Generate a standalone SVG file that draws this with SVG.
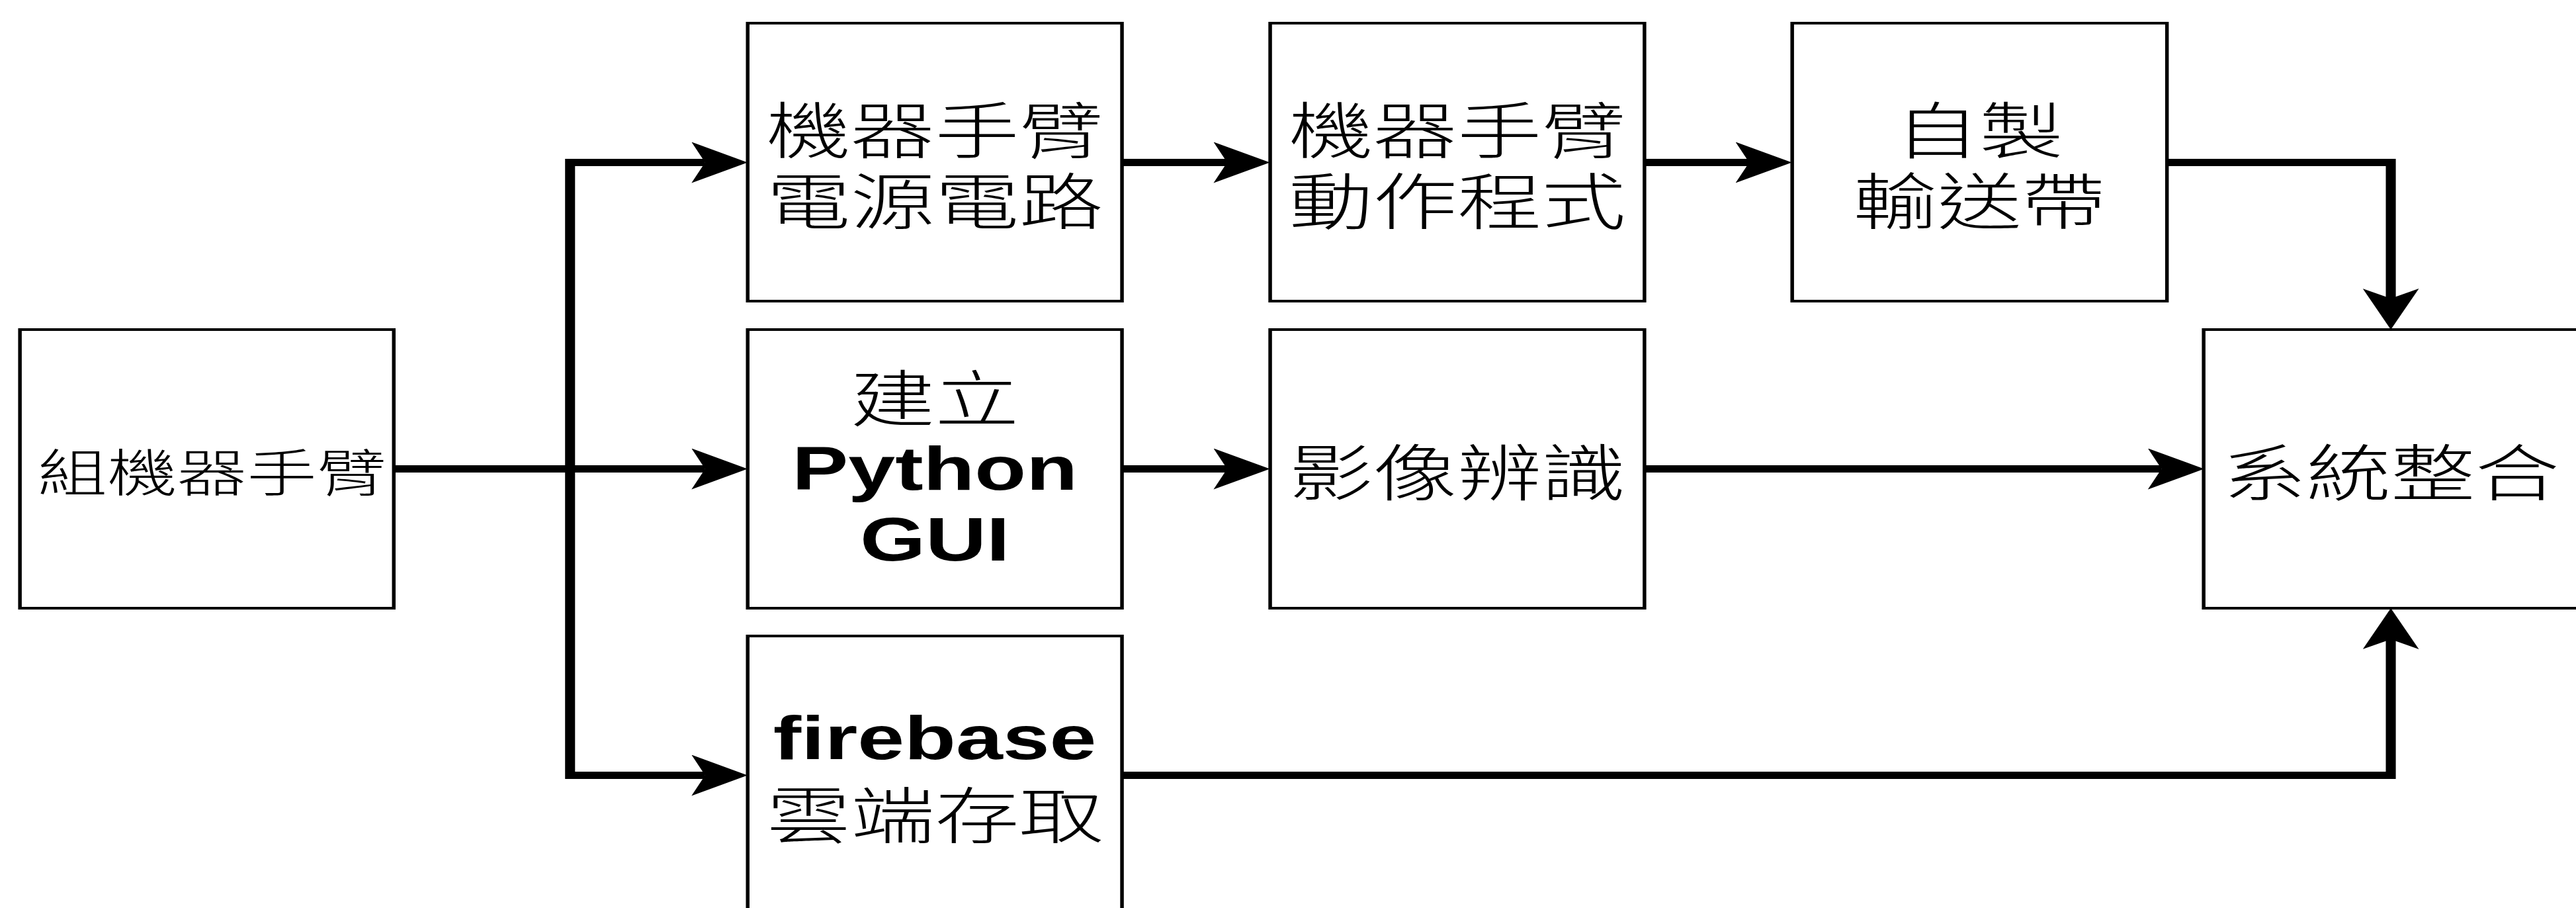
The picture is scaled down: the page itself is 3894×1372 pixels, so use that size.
<svg xmlns="http://www.w3.org/2000/svg" width="3894" height="1372" viewBox="0 0 3894 1372">
  <defs>
    <style>
      .box { fill: #ffffff; stroke: #000000; stroke-width: 4; }
      .wire { fill: none; stroke: #000000; stroke-width: 11; stroke-linejoin: miter; stroke-linecap: butt; }
      .cjk { font-family: "Noto Sans CJK TC", "Noto Sans CJK SC", sans-serif; font-size: 93px; font-weight: 300; fill: #000000; text-anchor: middle; }
      .lat { font-family: "Liberation Sans", Arial, sans-serif; font-size: 93px; font-weight: bold; fill: #000000; text-anchor: middle; }
      .small { font-size: 77px; }
    </style>
    <marker id="arrow" markerUnits="userSpaceOnUse" markerWidth="62" markerHeight="62" refX="15" refY="31" orient="auto" viewBox="0 0 62 62">
      <path d="M0,0 L62,31 L0,62 L15,31 Z" fill="#000000"/>
    </marker>
  </defs>
  <rect width="3894" height="1372" fill="#ffffff"/>
  <!-- whole drawing is laid out on a horizontally stretched grid -->
  <g transform="scale(1.37 1)">
    <g id="connectors">
      <path class="wire" d="M434,708.5 H778" marker-end="url(#arrow)"/>
      <path class="wire" d="M434,708.5 H629 V245.5 H778" marker-end="url(#arrow)"/>
      <path class="wire" d="M434,708.5 H629 V1171.5 H778" marker-end="url(#arrow)"/>
      <path class="wire" d="M1238,245.5 H1354" marker-end="url(#arrow)"/>
      <path class="wire" d="M1814.5,245.5 H1930" marker-end="url(#arrow)"/>
      <path class="wire" d="M2391,245.5 H2638 V451" marker-end="url(#arrow)"/>
      <path class="wire" d="M1238,708.5 H1354" marker-end="url(#arrow)"/>
      <path class="wire" d="M1814.5,708.5 H2385" marker-end="url(#arrow)"/>
      <path class="wire" d="M1238,1171.5 H2638 V966" marker-end="url(#arrow)"/>
    </g>

    <g id="assemble-arm">
      <rect class="box" x="22" y="498" width="412.5" height="421"/>
      <text class="cjk small" x="234" y="743">組機器手臂</text>
    </g>

    <g id="arm-power-circuit">
      <rect class="box" x="825" y="35" width="413" height="420"/>
      <text class="cjk" x="1031.5" y="232">機器手臂</text>
      <text class="cjk" x="1031.5" y="339">電源電路</text>
    </g>

    <g id="arm-motion-program">
      <rect class="box" x="1401.5" y="35" width="413" height="420"/>
      <text class="cjk" x="1608" y="232">機器手臂</text>
      <text class="cjk" x="1608" y="339">動作程式</text>
    </g>

    <g id="conveyor">
      <rect class="box" x="1977.5" y="35" width="413.5" height="420"/>
      <text class="cjk" x="2184" y="232">自製</text>
      <text class="cjk" x="2184" y="339">輸送帶</text>
    </g>

    <g id="python-gui">
      <rect class="box" x="825" y="498" width="413" height="421"/>
      <text class="cjk" x="1031.5" y="637">建立</text>
      <text class="lat" x="1031.5" y="740">Python</text>
      <text class="lat" x="1031.5" y="847">GUI</text>
    </g>

    <g id="image-recognition">
      <rect class="box" x="1401.5" y="498" width="413" height="421"/>
      <text class="cjk" x="1608" y="749">影像辨識</text>
    </g>

    <g id="firebase-storage">
      <rect class="box" x="825" y="961" width="413" height="421"/>
      <text class="lat" x="1031.5" y="1147">firebase</text>
      <text class="cjk" x="1031.5" y="1267">雲端存取</text>
    </g>

    <g id="system-integration">
      <rect class="box" x="2431.5" y="498" width="413" height="421"/>
      <text class="cjk" x="2638" y="749">系統整合</text>
    </g>
  </g>
</svg>
